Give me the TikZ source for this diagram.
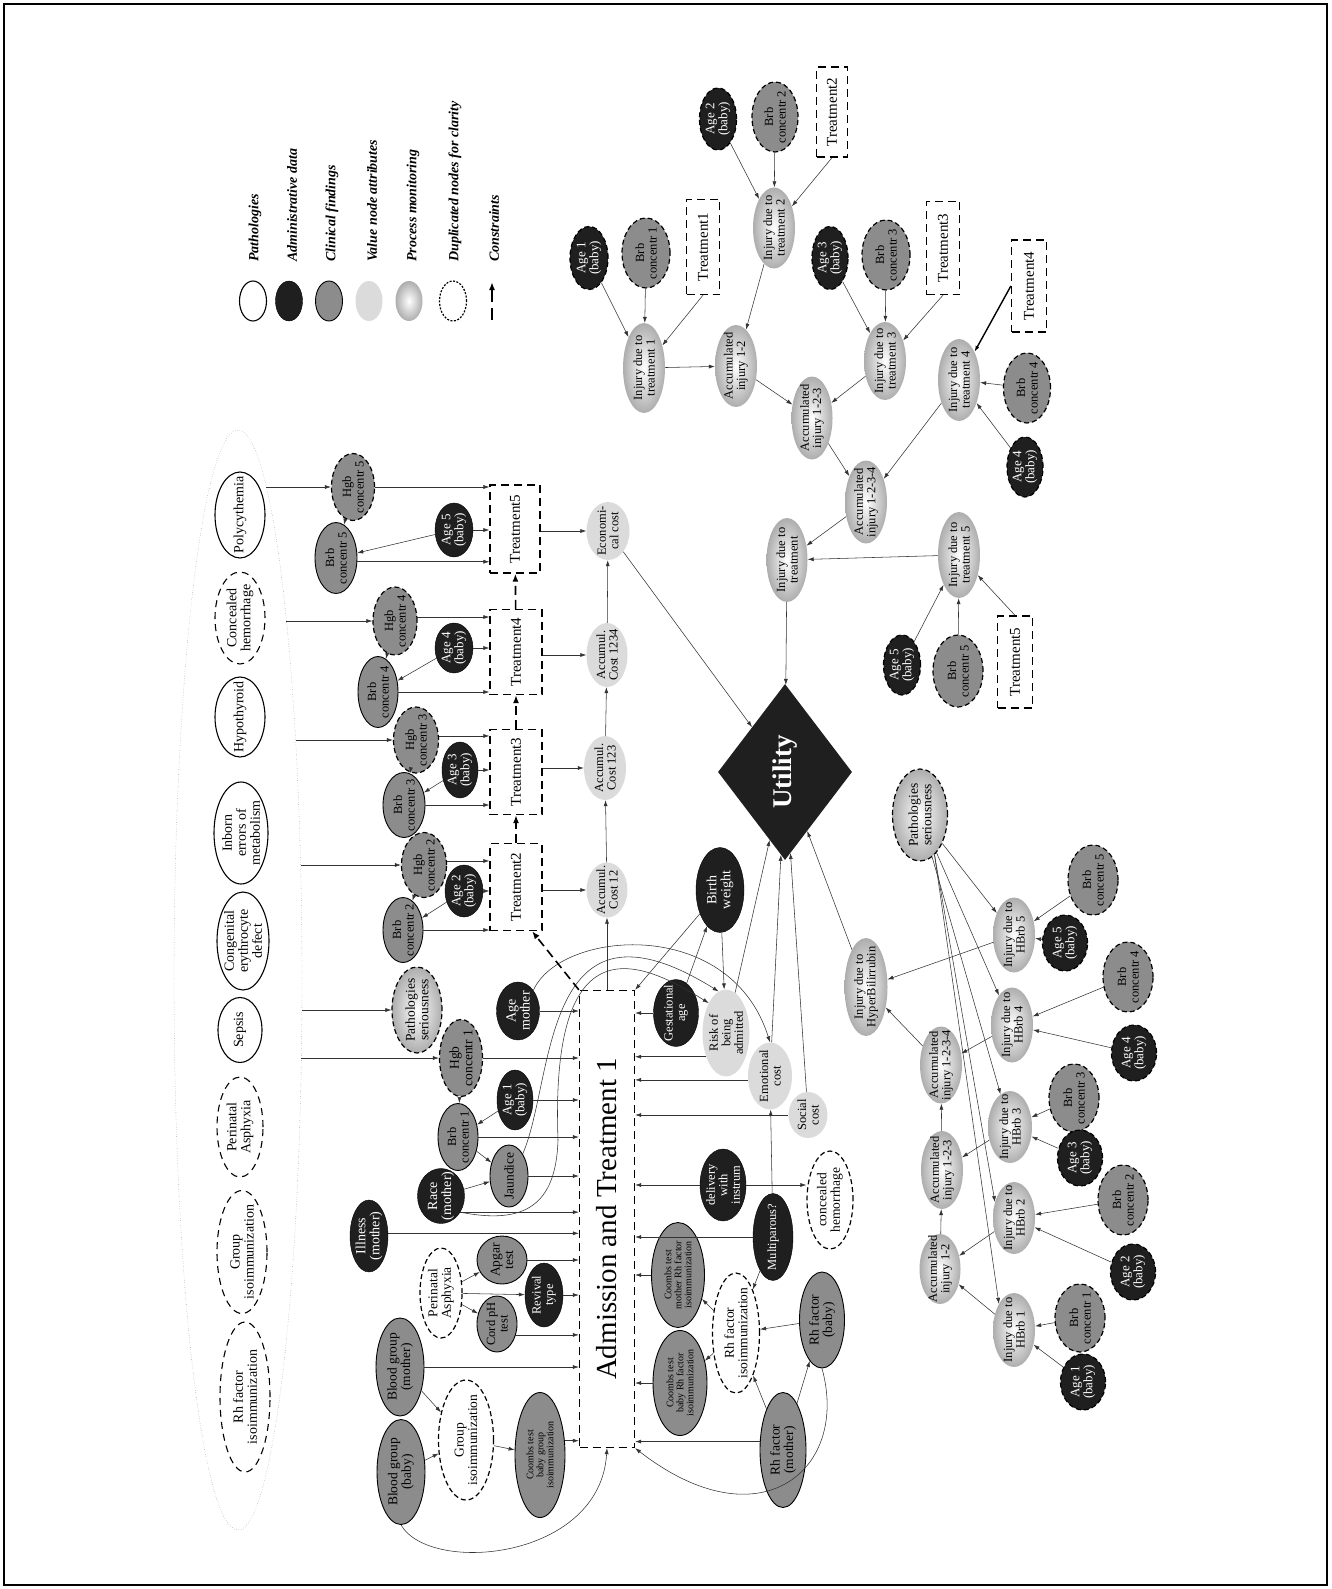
\documentclass[tikz,border=0pt]{standalone}
\usepackage{fontspec}
\setmainfont{Liberation Serif}
\usetikzlibrary{shapes.geometric,arrows.meta}
\newcommand\fs[1]{\fontsize{#1}{#1}\selectfont}
\tikzset{
  every node/.style={inner sep=0pt},
  every label/.style={rotate=90, align=center, font=\fs{12.5}},
  sz/.style 2 args={ellipse, minimum width=#1, minimum height=#2},
  patho/.style={draw, line width=1.1pt, fill=white},
  pathd/.style={patho, dash pattern=on 7pt off 5pt},
  adm/.style={draw, fill=black!88},
  clin/.style={draw, line width=.9pt, fill=black!45},
  val/.style={fill=black!14},
  proc/.style={inner color=white, outer color=black!32},
  dup/.style={draw, line width=1.2pt, dash pattern=on 5pt off 3pt},
  treat/.style={rectangle, draw, line width=1.3pt, dash pattern=on 8pt off 5pt},
  % label looks
  wl/.style={text=white},
  al/.style={text=white, font=\fs{13}},
  wbl/.style={text=white, font=\fs{14}},
  pl/.style={font=\fs{14}},
  bl/.style={font=\fs{13.5}},
  tl/.style={font=\fs{15}},
  cl/.style={font=\fs{10}},
  con/.style={-{Latex[length=8pt,width=6pt]}, line width=1.6pt, dash pattern=on 9pt off 5pt},
  legtxt/.style={rotate=90, anchor=west, font=\bfseries\itshape\fs{14}}
}
\begin{document}
\begin{tikzpicture}[x=1pt, y=-1pt, >={Latex[length=6pt,width=4pt]}]
\useasboundingbox (0,0) rectangle (1331,1589);
\draw[line width=1.2pt] (4,4) rectangle (1327,1585);

% legend
\node[sz={27}{40}, patho] (lg1) at (253,301) {};
\node[sz={27}{40}, adm] (lg2) at (289,301) {};
\node[sz={27}{40}, clin] (lg3) at (329,301) {};
\node[sz={27}{40}, val] (lg4) at (369,301) {};
\node[sz={27}{40}, proc] (lg5) at (409,301) {};
\node[sz={27}{40}, dup, dash pattern=on 2pt off 1.5pt] (lg6) at (453,301) {};
\coordinate (lg7a) at (492,320);
\coordinate (lg7b) at (492,282);
\draw[con, dash pattern=on 12pt off 6pt] (lg7a) -- (lg7b);
\node[legtxt] (lt1) at (255,262) {Pathologies};
\node[legtxt] (lt2) at (292,262) {Administrative data};
\node[legtxt] (lt3) at (332,262) {Clinical findings};
\node[legtxt] (lt4) at (372,262) {Value node attributes};
\node[legtxt] (lt5) at (413,262) {Process monitoring};
\node[legtxt] (lt6) at (455,262) {Duplicated nodes for clarity};
\node[legtxt] (lt7) at (494,262) {Constraints};

% pathologies
\node[draw=black!55, dotted, ellipse, minimum width=128, minimum height=1100] (pset) at (238,980) {};
\node[sz={50}{86}, patho, label={[pl]center:Polycythemia}] (poly) at (240,515) {};
\node[sz={50}{92}, pathd, label={[pl]center:Concealed\\hemorrhage}] (conch) at (240,618) {};
\node[sz={50}{80}, patho, label={[pl]center:Hypothyroid}] (hypo) at (240,717) {};
\node[sz={54}{102}, patho, label={[pl]center:Inborn\\errors of\\metabolism}] (inborn) at (241,833) {};
\node[sz={52}{98}, patho, label={[pl]center:Congenital\\erythrocyte\\defect}] (cong) at (243,941) {};
\node[sz={44}{65}, patho, label={[pl]center:Sepsis}] (sepsis) at (240,1030) {};
\node[sz={46}{100}, pathd, label={[pl]center:Perinatal\\Asphyxia}] (perin) at (240,1127) {};
\node[sz={50}{123}, pathd, label={[pl]center:Group\\isoimmunization}] (groupi) at (242,1252) {};
\node[sz={50}{150}, pathd, label={[pl]center:Rh factor\\isoimmunization}] (rhi) at (245,1397) {};
\coordinate (s5) at (266,487);
\coordinate (s4) at (286,621);
\coordinate (s3) at (296,740);
\coordinate (s2) at (301,865);
\coordinate (sp) at (302,1010);
\coordinate (s1) at (301,1058);

% monitoring and treatments
\node[sz={43}{67}, clin, dup, label={center:Hgb\\concentr 5}] (hgb5) at (353,487) {};
\node[sz={42}{71}, clin, label={center:Brb\\concentr 5}] (brb5) at (336,558) {};
\node[sz={38}{54}, adm, label={[al]center:Age 5\\(baby)}] (age5) at (454,530) {};
\node[treat, minimum width=50, minimum height=88, label={[tl]center:Treatment5}] (t5) at (515,529) {};
\node[sz={44}{68}, clin, dup, label={center:Hgb\\concentr 4}] (hgb4) at (395,621) {};
\node[sz={40}{71}, clin, label={center:Brb\\concentr 4}] (brb4) at (378,692) {};
\node[sz={38}{50}, adm, label={[al]center:Age 4\\(baby)}] (age4) at (454,648) {};
\node[treat, minimum width=52, minimum height=85, label={[tl]center:Treatment4}] (t4) at (516,652) {};
\node[sz={45}{66}, clin, dup, label={center:Hgb\\concentr 3}] (hgb3) at (416,740) {};
\node[sz={42}{65}, clin, label={center:Brb\\concentr 3}] (brb3) at (404,805) {};
\node[sz={36}{56}, adm, label={[al]center:Age 3\\(baby)}] (age3) at (460,770) {};
\node[treat, minimum width=52, minimum height=85, label={[tl]center:Treatment3}] (t3) at (516,772) {};
\node[sz={45}{65}, clin, dup, label={center:Hgb\\concentr 2}] (hgb2) at (424,865) {};
\node[sz={40}{65}, clin, label={center:Brb\\concentr 2}] (brb2) at (403,930) {};
\node[sz={38}{52}, adm, label={[al]center:Age 2\\(baby)}] (age2) at (464,891) {};
\node[treat, minimum width=52, minimum height=87, label={[tl]center:Treatment2}] (t2) at (516,887) {};
\node[sz={50}{86}, proc, dup, label={[bl]center:Pathologies\\seriousness}] (pser) at (417,1010) {};
\node[sz={43}{77}, clin, dup, label={[bl]center:Hgb\\concentr 1}] (hgb1) at (461,1058) {};
\node[sz={36}{60}, adm, label={[al]center:Age 1\\(baby)}] (age1) at (515,1100) {};
\node[sz={40}{67}, clin, label={center:Brb\\concentr 1}] (brb1) at (458,1137) {};
\node[sz={43}{58}, adm, label={[wbl]center:Age\\mother}] (agem) at (518,1011) {};
\node[sz={38}{62}, clin, label={[bl]center:Jaundice}] (jaund) at (509,1176) {};
\node[sz={47}{55}, adm, label={[wbl]center:Race\\(mother)}] (race) at (441,1196) {};
\node[sz={38}{72}, adm, label={[wbl]center:Illness\\(mother)}] (ill) at (369,1236) {};
\node[sz={42}{90}, dup, fill=white, label={[bl]center:Perinatal\\Asphyxia}] (perin2) at (441,1293) {};
\node[sz={50}{48}, clin, label={[bl]center:Apgar\\test}] (apgar) at (502,1260) {};
\node[sz={38}{64}, adm, label={[wl]center:Revival\\type}] (reviv) at (544,1295) {};
\node[sz={40}{56}, clin, label={center:Cord pH\\test}] (cord) at (497,1324) {};
\node[sz={48}{98}, clin, label={[bl]center:Blood group\\(mother)}] (bgm) at (400,1367) {};
\node[sz={48}{105}, clin, label={[bl]center:Blood group\\(baby)}] (bgb) at (401,1472) {};
\node[sz={55}{120}, dup, fill=white, label={[bl]center:Group\\isoimmunization}] (groupi2) at (466,1440) {};
\node[sz={50}{125}, clin, label={[cl]center:Coombs test\\baby group\\isoimmunization}] (cbg) at (540,1455) {};
\node[treat, minimum width=55, minimum height=457, label={[font=\fs{29}]center:Admission and Treatment 1}] (admt) at (607,1219) {};

% costs
\node[sz={41}{55}, val, label={center:Accumul.\\Cost 12}] (c12) at (607,890) {};
\node[sz={42}{64}, val, label={center:Accumul.\\Cost 123}] (c123) at (605,768) {};
\node[sz={41}{64}, val, label={center:Accumul.\\Cost 1234}] (c1234) at (607,655) {};
\node[sz={43}{58}, val, label={center:Economi-\\cal cost}] (econ) at (608,531) {};
\node[diamond, fill=black!88, minimum width=134, minimum height=176, label={[font=\bfseries\fs{27}, text=white]center:Utility}] (util) at (785,772) {};

% right of admission
\node[sz={48}{85}, adm, label={[wbl]center:Birth\\weight}] (birthw) at (720,890) {};
\node[sz={45}{67}, adm, label={[wl]center:Gestational\\age}] (gest) at (676,1013) {};
\node[sz={47}{87}, val, label={center:Risk of\\being\\admitted}] (risk) at (726,1033) {};
\node[sz={44}{67}, val, label={center:Emotional\\cost}] (emot) at (770,1076) {};
\node[sz={39}{46}, val, label={center:Social\\cost}] (social) at (808,1115) {};
\node[sz={46}{72}, adm, label={[wl]center:delivery\\with\\instrum}] (deliv) at (723,1185) {};
\node[sz={40}{87}, adm, label={[wl]center:Multiparous?}] (multi) at (773,1237) {};
\node[sz={46}{98}, dup, fill=white, label={[bl]center:concealed\\hemorrhage}] (conch2) at (830,1200) {};
\node[sz={53}{105}, clin, label={[cl]center:Coombs test\\mother Rh factor\\isoimmunization}] (cmr) at (678,1275) {};
\node[sz={54}{105}, clin, label={[cl]center:Coombs test\\baby Rh factor\\isoimmunization}] (cbr) at (680,1383) {};
\node[sz={47}{120}, dup, fill=white, label={[bl]center:Rh factor\\isoimmunization}] (rhi2) at (736,1333) {};
\node[sz={45}{96}, clin, label={[bl]center:Rh factor\\(baby)}] (rhb) at (822,1320) {};
\node[sz={46}{115}, clin, label={[bl]center:Rh factor\\(mother)}] (rhm) at (783,1450) {};

% injury due to treatments
\node[sz={37}{62}, adm, dup, label={[al]center:Age 2\\(baby)}] (ua2) at (718,119) {};
\node[sz={46}{70}, clin, dup, label={center:Brb\\concentr 2}] (ub2) at (775,117) {};
\node[treat, minimum width=31, minimum height=90, label={[tl]center:Treatment2}] (ut2) at (832,112) {};
\node[sz={42}{81}, proc, label={center:Injury due to\\treatment 2}] (ui2) at (774,228) {};
\node[sz={38}{63}, adm, dup, label={[al]center:Age 1\\(baby)}] (ua1) at (589,258) {};
\node[sz={48}{70}, clin, dup, label={center:Brb\\concentr 1}] (ub1) at (646,253) {};
\node[treat, minimum width=33, minimum height=95, label={[tl]center:Treatment1}] (ut1) at (703,247) {};
\node[sz={42}{90}, proc, label={center:Injury due to\\treatment 1}] (ui1) at (644,368) {};
\node[sz={42}{82}, proc, label={center:Accumulated\\injury 1-2}] (uacc12) at (736,366) {};
\node[sz={36}{63}, adm, dup, label={[al]center:Age 3\\(baby)}] (ua3) at (830,258) {};
\node[sz={48}{70}, clin, dup, label={center:Brb\\concentr 3}] (ub3) at (886,255) {};
\node[treat, minimum width=33, minimum height=93, label={[tl]center:Treatment3}] (ut3) at (943,248) {};
\node[sz={42}{78}, proc, label={center:Injury due to\\treatment 3}] (ui3) at (885,361) {};
\node[treat, minimum width=35, minimum height=92, label={[tl]center:Treatment4}] (ut4) at (1029,286) {};
\node[sz={42}{82}, proc, label={center:Injury due to\\treatment 4}] (ui4) at (959,380) {};
\node[sz={47}{70}, clin, dup, label={center:Brb\\concentr 4}] (ub4) at (1027,388) {};
\node[sz={36}{60}, adm, dup, label={[al]center:Age 4\\(baby)}] (ua4) at (1025,467) {};
\node[sz={41}{83}, proc, label={center:Accumulated\\injury 1-2-3}] (uacc123) at (812,418) {};
\node[sz={42}{83}, proc, label={center:Accumulated\\injury 1-2-3-4}] (uacc1234) at (866,502) {};
\node[sz={41}{84}, proc, label={center:Injury due to\\treatment}] (uit) at (787,560) {};
\node[sz={42}{86}, proc, label={center:Injury due to\\treatment 5}] (ui5) at (959,555) {};
\node[sz={37}{60}, adm, dup, label={[al]center:Age 5\\(baby)}] (ua5) at (902,665) {};
\node[sz={50}{72}, clin, dup, label={center:Brb\\concentr 5}] (ub5) at (958,671) {};
\node[treat, minimum width=35, minimum height=92, label={[tl]center:Treatment5}] (ut5) at (1015,662) {};

% injury due to hyperbilirubin
\node[sz={55}{92}, proc, dup, label={[bl]center:Pathologies\\seriousness}] (pser2) at (920,815) {};
\node[sz={43}{98}, proc, label={center:Injury due to\\HyperBilirrubin}] (ihyp) at (866,987) {};
\node[sz={42}{75}, proc, label={center:Injury due to\\HBrb 5}] (hb5) at (1014,935) {};
\node[sz={42}{75}, proc, label={center:Injury due to\\HBrb 4}] (hb4) at (1012,1025) {};
\node[sz={44}{72}, proc, label={center:Injury due to\\HBrb 3}] (hb3) at (1010,1127) {};
\node[sz={42}{72}, proc, label={center:Injury due to\\HBrb 2}] (hb2) at (1014,1218) {};
\node[sz={42}{74}, proc, label={center:Injury due to\\HBrb 1}] (hb1) at (1014,1330) {};
\node[sz={42}{77}, proc, label={center:Accumulated\\injury 1-2-3-4}] (acc1234) at (941,1065) {};
\node[sz={42}{78}, proc, label={center:Accumulated\\injury 1-2-3}] (acc123) at (942,1170) {};
\node[sz={41}{70}, proc, label={center:Accumulated\\injury 1-2}] (acc12) at (940,1269) {};
\node[sz={50}{70}, clin, dup, label={center:Brb\\concentr 5}] (rb5) at (1093,880) {};
\node[sz={45}{56}, adm, dup, label={[al]center:Age 5\\(baby)}] (ra5) at (1065,943) {};
\node[sz={50}{70}, clin, dup, label={center:Brb\\concentr 4}] (rb4) at (1128,977) {};
\node[sz={45}{56}, adm, dup, label={[al]center:Age 4\\(baby)}] (ra4) at (1134,1053) {};
\node[sz={50}{68}, clin, dup, label={center:Brb\\concentr 3}] (rb3) at (1074,1098) {};
\node[sz={45}{56}, adm, dup, label={[al]center:Age 3\\(baby)}] (ra3) at (1080,1158) {};
\node[sz={50}{70}, clin, dup, label={center:Brb\\concentr 2}] (rb2) at (1123,1200) {};
\node[sz={45}{56}, adm, dup, label={[al]center:Age 2\\(baby)}] (ra2) at (1133,1272) {};
\node[sz={50}{68}, clin, dup, label={center:Brb\\concentr 1}] (rb1) at (1080,1318) {};
\node[sz={45}{56}, adm, dup, label={[al]center:Age 1\\(baby)}] (ra1) at (1083,1382) {};

\begin{scope}[black!80, line width=.55pt]
% pathologies to monitoring
\draw[->] (s5) -- (hgb5);
\draw[->] (s4) -- (hgb4);
\draw[->] (s3) -- (hgb3);
\draw[->] (s2) -- (hgb2);
\draw[->] (sp) -- (pser);
\draw[->] (s1) -- (hgb1);
% treatments
\draw[->] (hgb5) -- (brb5);
\draw[->] (age5) -- (brb5);
\draw[->] (hgb5) -- (hgb5 -| t5.west);
\draw[->] (age5) -- (age5 -| t5.west);
\draw[->] (brb5.-10) -- (brb5.-10 -| t5.west);
\draw[->] (hgb4) -- (brb4);
\draw[->] (age4) -- (brb4);
\draw[->] (hgb4.10) -- (hgb4.10 -| t4.west);
\draw[->] (age4) -- (age4 -| t4.west);
\draw[->] (brb4) -- (brb4 -| t4.west);
\draw[->] (hgb3) -- (brb3);
\draw[->] (age3) -- (brb3);
\draw[->] (hgb3.10) -- (hgb3.10 -| t3.west);
\draw[->] (age3) -- (age3 -| t3.west);
\draw[->] (brb3) -- (brb3 -| t3.west);
\draw[->] (hgb2) -- (brb2);
\draw[->] (age2) -- (brb2);
\draw[->] (hgb2.10) -- (hgb2.10 -| t2.west);
\draw[->] (age2) -- (age2 -| t2.west);
\draw[->] (brb2) -- (brb2 -| t2.west);
% costs
\draw[->] (t2.east |- c12) -- (c12);
\draw[->] (t3.east |- c123) -- (c123);
\draw[->] (t4.east |- c1234) -- (c1234);
\draw[->] (t5.east |- econ) -- (econ);
\draw[->] (admt.north -| c12) -- (c12);
\draw[->] (c12) -- (c123);
\draw[->] (c123) -- (c1234);
\draw[->] (c1234) -- (econ);
\draw[->] (econ) -- (util);
% into admission, left side
\draw[->] (agem) -- (agem -| admt.west);
\draw[->] (hgb1) -- (hgb1 -| admt.west);
\draw[->] (hgb1) -- (brb1);
\draw[->] (age1) -- (age1 -| admt.west);
\draw[->] (age1) -- (brb1);
\draw[->] (brb1) -- (brb1 -| admt.west);
\draw[->] (brb1) -- (jaund);
\draw[->] (race) -- (jaund);
\draw[->] (jaund) -- (jaund -| admt.west);
\draw[->] (race.-40) -- (race.-40 -| admt.west);
\draw[->] (ill.8) -- (ill.8 -| admt.west);
\draw[->] (perin2) -- (apgar);
\draw[->] (perin2) -- (reviv);
\draw[->] (perin2) -- (cord);
\draw[->] (apgar) -- (apgar -| admt.west);
\draw[->] (reviv) -- (reviv -| admt.west);
\draw[->] (cord.-30) -- (cord.-30 -| admt.west);
\draw[->] (bgm) -- (bgm -| admt.west);
\draw[->] (bgm) -- (groupi2);
\draw[->] (bgb) -- (groupi2);
\draw[->] (groupi2) -- (cbg);
\draw[->] (cbg.30) -- (cbg.30 -| admt.west);
\draw[->] (bgb.south) .. controls (430,1575) and (600,1560) .. (admt.south);
\draw[->] (agem.north east) .. controls (560,930) and (730,915) .. (emot.north);
\draw[->] (jaund.north east) .. controls (555,1080) and (540,880) .. (risk.100);
\draw[->] (race.-40) .. controls (525,1225) and (556,1205) .. (558,1140) .. controls (550,920) and (640,960) .. (risk.120);
% into admission, right side
\draw[->] (gest) -- (gest -| admt.east);
\draw[->] (risk.230) -- (risk.230 -| admt.east);
\draw[->] (emot.190) -- (emot.190 -| admt.east);
\draw[->] (social) -- (social -| admt.east);
\draw[->] (deliv) -- (deliv -| admt.east);
\draw[->] (deliv) -- (deliv -| conch2.west);
\draw[->] (multi) -- (multi -| admt.east);
\draw[->] (multi) -- (emot);
\draw[->] (multi) -- (rhi2);
\draw[->] (cmr) -- (cmr -| admt.east);
\draw[->] (cbr) -- (cbr -| admt.east);
\draw[->] (rhi2) -- (cmr);
\draw[->] (rhi2) -- (cbr);
\draw[->] (rhb) -- (rhi2);
\draw[->] (rhm) -- (rhb);
\draw[->] (rhm) -- (rhi2);
\draw[->] (rhm.160) -- (rhm.160 -| admt.east);
\draw[->] (rhb.south) .. controls (850,1470) and (760,1545) .. (admt.south east);
\draw[->] (gest) -- (birthw);
\draw[->] (birthw) -- (risk);
\draw[->] (birthw) -- (admt.north east);
\draw[->] (risk) -- (util);
\draw[->] (emot) -- (util);
\draw[->] (social) -- (util);
% injury due to treatments
\draw[->] (ua2) -- (ui2);
\draw[->] (ub2) -- (ui2);
\draw[->] (ut2.south) -- (ui2);
\draw[->] (ua1) -- (ui1);
\draw[->] (ub1) -- (ui1);
\draw[->] (ut1.south) -- (ui1);
\draw[->] (ui1) -- (uacc12);
\draw[->] (ui2) -- (uacc12);
\draw[->] (ua3) -- (ui3);
\draw[->] (ub3) -- (ui3);
\draw[->] (ut3.south) -- (ui3);
\draw[->] (uacc12) -- (uacc123);
\draw[->] (ui3) -- (uacc123);
\draw[->, black, line width=1.4pt] (ut4.west) -- (ui4);
\draw[->] (ub4) -- (ui4);
\draw[->] (ua4) -- (ui4);
\draw[->] (uacc123) -- (uacc1234);
\draw[->] (ui4) -- (uacc1234);
\draw[->] (uacc1234) -- (uit);
\draw[->] (ui5) -- (uit);
\draw[->] (ua5) -- (ui5);
\draw[->] (ub5) -- (ui5);
\draw[->] (ut5.north) -- (ui5);
\draw[->] (uit) -- (util);
% injury due to hyperbilirubin
\draw[->] (pser2) -- (hb5);
\draw[->] (pser2) -- (hb4);
\draw[->] (pser2) -- (hb3);
\draw[->] (pser2.-70) -- (hb2.140);
\draw[->] (pser2.-70) -- (hb1.120);
\draw[->] (rb5) -- (hb5);
\draw[->] (ra5) -- (hb5);
\draw[->] (rb4) -- (hb4);
\draw[->] (ra4) -- (hb4);
\draw[->] (rb3) -- (hb3);
\draw[->] (ra3) -- (hb3);
\draw[->] (rb2) -- (hb2);
\draw[->] (ra2) -- (hb2);
\draw[->] (rb1) -- (hb1);
\draw[->] (ra1) -- (hb1);
\draw[->] (hb5) -- (ihyp);
\draw[->] (acc1234) -- (ihyp);
\draw[->] (hb4) -- (acc1234);
\draw[->] (acc123) -- (acc1234);
\draw[->] (hb3) -- (acc123);
\draw[->] (acc12) -- (acc123);
\draw[->] (hb2) -- (acc12);
\draw[->] (hb1) -- (acc12);
\draw[->] (ihyp) -- (util);
\end{scope}

% constraints
\draw[con] (admt.north west) -- (t2.-70);
\draw[con] (t2) -- (t3);
\draw[con] (t3) -- (t4);
\draw[con] (t4) -- (t5);
\end{tikzpicture}
\end{document}
